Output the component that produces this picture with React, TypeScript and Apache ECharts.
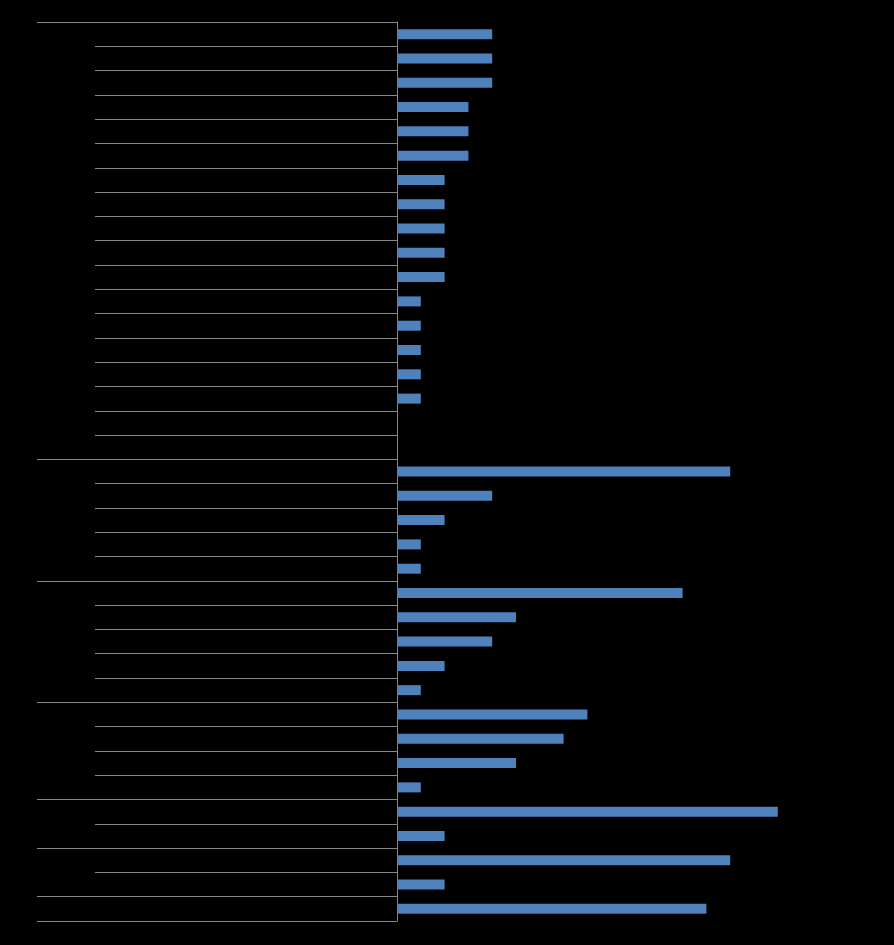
import React, { useEffect, useRef } from "react";
import * as echarts from "echarts";

// 37 categories (labels are not visible in the reference: rendered black on black)
const categories: string[] = Array.from({ length: 37 }, (_, i) => `C${i + 1}`);
const values: number[] = [
  4, 4, 4, 3, 3, 3, 2, 2, 2, 2, 2, 1, 1, 1, 1, 1, 0, 0,
  14, 4, 2, 1, 1,
  12, 5, 4, 2, 1,
  8, 7, 5, 1,
  16, 2,
  14, 2,
  13,
];
// index of the first category of each outer group
const groupStarts: number[] = [0, 18, 23, 28, 32, 34, 36];

export default function App() {
  const ref = useRef<HTMLDivElement>(null);
  useEffect(() => {
    document.body.style.margin = "0";
    document.body.style.background = "#000";
    const chart = echarts.init(ref.current!, null, { renderer: "svg" });
    const lineColor = "#868686";
    chart.setOption({
      animation: false,
      backgroundColor: "#000",
      grid: { left: 397, top: 22, bottom: 24, right: 21, containLabel: false },
      xAxis: {
        type: "value",
        min: 0,
        max: 20,
        interval: 2,
        axisLine: { show: false },
        axisTick: { show: false },
        axisLabel: { show: false },
        splitLine: { show: false },
      },
      yAxis: [
        {
          type: "category",
          data: categories,
          inverse: true,
          position: "left",
          axisLine: { show: true, lineStyle: { color: lineColor, width: 1 } },
          axisTick: { show: true, length: 302, interval: 0, lineStyle: { color: lineColor, width: 1 } },
          axisLabel: { show: false },
          splitLine: { show: false },
        },
        {
          type: "category",
          data: categories,
          inverse: true,
          position: "left",
          axisLine: { show: false },
          axisTick: {
            show: true,
            length: 360,
            interval: (index: number) => groupStarts.indexOf(index) >= 0,
            lineStyle: { color: lineColor, width: 1 },
          },
          axisLabel: { show: false },
          splitLine: { show: false },
        },
      ],
      series: [
        {
          type: "bar",
          data: values,
          yAxisIndex: 0,
          barWidth: 10,
          itemStyle: { color: "#4F81BD" },
        },
      ],
    });
    return () => chart.dispose();
  }, []);
  return (
    <div
      ref={ref}
      style={{ position: "absolute", left: 0, top: 0, width: 894, height: 945, background: "#000" }}
    />
  );
}
